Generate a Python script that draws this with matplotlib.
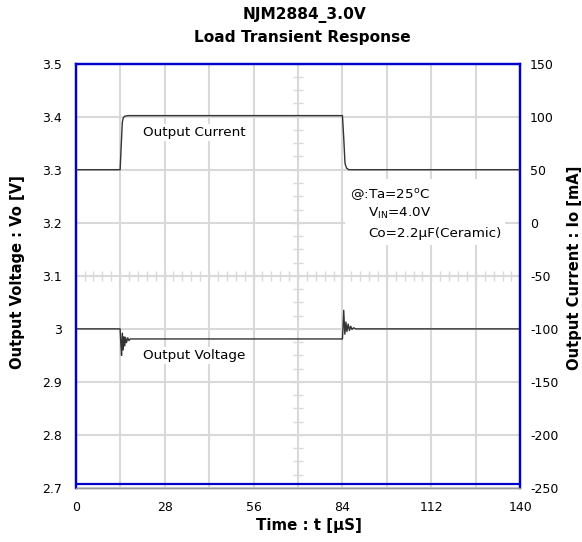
import numpy as np
import matplotlib.pyplot as plt
from matplotlib.patches import Rectangle

plt.rcParams['font.family'] = ['DejaVu Sans']
plt.rcParams['axes.unicode_minus'] = False
plt.rcParams['mathtext.fontset'] = 'dejavusans'

# output voltage trace (us, V)
t_v = [0, 14.0, 14.2, 14.45, 14.7, 14.95, 15.2, 15.45, 15.7, 16.0, 16.4, 16.8, 17.2,
       84.0, 84.15, 84.4, 84.75, 85.1, 85.4, 85.8, 86.2, 86.6, 87.0, 87.5, 88.2, 140]
vo = [3.0, 3.0, 2.975, 2.950, 2.992, 2.960, 2.985, 2.968, 2.984, 2.974, 2.983, 2.978, 2.981,
      2.981, 3.000, 3.035, 2.990, 3.013, 2.995, 3.009, 2.997, 3.005, 2.999, 3.002, 3.0, 3.0]

# output current trace (us, mA)
t_i = [0, 14.0, 14.3, 14.7, 15.0, 15.5, 16.5, 84.0, 84.4, 84.8, 85.3, 86.0, 140]
io = [50, 50, 70, 95, 99, 100.5, 101, 101, 80, 56, 51.5, 50, 50]

x_ticks = [0, 28, 56, 84, 112, 140]
v_ticks = [2.7, 2.8, 2.9, 3.0, 3.1, 3.2, 3.3, 3.4, 3.5]
v_labels = ['2.7', '2.8', '2.9', '3', '3.1', '3.2', '3.3', '3.4', '3.5']
i_ticks = [-250, -200, -150, -100, -50, 0, 50, 100, 150]

grid_c = '#d9d9d9'
blue = '#0000cc'
fs_tick = 9
fs_note = 9.7

fig = plt.figure(figsize=(5.82, 5.42), dpi=100)
ax = fig.add_axes([0.130, 0.0996, 0.764, 0.783])
ax2 = ax.twinx()

ax.set_xlim(0, 140)
ax.set_ylim(2.7, 3.5)
ax2.set_ylim(-250, 150)

ax.set_xticks(x_ticks)
ax.set_xticks(np.arange(14, 140, 28), minor=True)
ax.set_yticks(v_ticks)
ax.set_yticklabels(v_labels)
ax2.set_yticks(i_ticks)
ax.grid(True, which='both', color=grid_c, lw=1.5)
ax.set_axisbelow(True)

# scope centre cross with small division marks
marks_t = np.arange(0, 141, 2.8)
ax.plot(marks_t, [3.1] * len(marks_t), ls='none',
        marker='|', ms=7, mew=1.0, color=grid_c, zorder=1)
ax.plot([70] * 33, np.linspace(2.7, 3.5, 33), ls='none',
        marker='_', ms=7, mew=1.0, color=grid_c, zorder=1)

ax.tick_params(axis='both', which='both', length=0, labelsize=fs_tick)
ax.tick_params(axis='x', pad=9)
ax.tick_params(axis='y', pad=10)
ax2.tick_params(axis='y', length=0, labelsize=fs_tick, pad=7)

for a in (ax, ax2):
    for s in ('left', 'right', 'top'):
        a.spines[s].set_color(blue)
        a.spines[s].set_linewidth(1.6)
    a.spines['bottom'].set_color('#999999')
    a.spines['bottom'].set_linewidth(1.0)
ax.axhline(2.707, color=blue, lw=1.6, zorder=3)

ax.plot(t_v, vo, color='#333333', lw=1.0, zorder=4)
ax2.plot(t_i, io, color='#333333', lw=1.0, zorder=4)

ax.text(21.3, 3.371, 'Output Current', fontsize=fs_note, va='center', zorder=5,
        bbox=dict(facecolor='white', edgecolor='none', pad=1.5))
ax.text(21.3, 2.949, 'Output Voltage', fontsize=fs_note, va='center', zorder=5,
        bbox=dict(facecolor='white', edgecolor='none', pad=1.5))

ax.add_patch(Rectangle((84.7, 3.158), 50.5, 0.125, facecolor='white',
                       edgecolor='none', zorder=2))
ax.text(86.3, 3.252, '@:Ta=25$^{\\rm o}$C', fontsize=fs_note, va='center', zorder=5)
ax.text(92.0, 3.217, 'V$_{\\rm IN}$=4.0V', fontsize=fs_note, va='center', zorder=5)
ax.text(92.0, 3.180, 'Co=2.2\u00b5F(Ceramic)', fontsize=fs_note, va='center', zorder=5)

ax.set_xlabel('Time : t [\u00b5S]', fontsize=10.8, fontweight='bold', va='center')
ax.xaxis.set_label_coords(0.5245, -0.0895)
ax.set_ylabel('Output Voltage : Vo [V]', fontsize=10.6, fontweight='bold')
ax.yaxis.set_label_coords(-0.114, 0.509)
ax2.set_ylabel('Output Current : Io [mA]', fontsize=10.6, fontweight='bold')
ax2.yaxis.set_label_coords(1.1045, 0.518)

fig.text(0.524, 0.972, 'NJM2884_3.0V', fontsize=11.1, fontweight='bold',
         ha='center', va='center')
fig.text(0.520, 0.930, 'Load Transient Response', fontsize=11.1, fontweight='bold',
         ha='center', va='center')

fig.savefig('out.png', dpi=100)
